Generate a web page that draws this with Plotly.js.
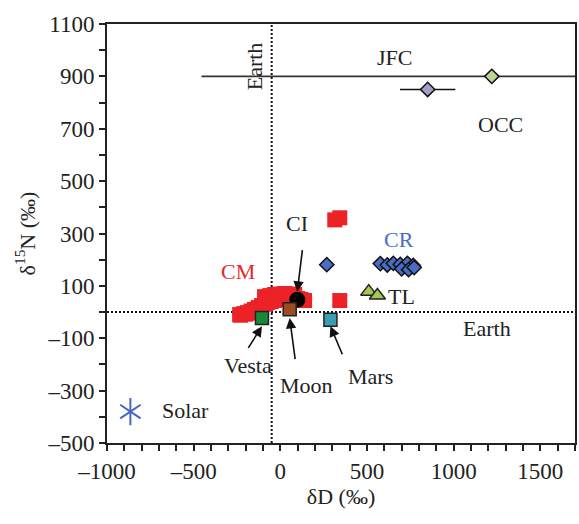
<!DOCTYPE html>
<html>
<head>
<meta charset="utf-8">
<script src="https://cdn.plot.ly/plotly-3.0.1.min.js"></script>
<style>html,body{margin:0;padding:0;background:#fff;}#chart{width:579px;height:524px;}</style>
</head>
<body>
<div id="chart"></div>
<script>
// ---- data (δD ‰, δ15N ‰) ----
const cmD   = [-235, -212, -189, -169, -149, -128, -108, -90, -73, -53, -33, -12, 8, 30, 54, 77, 100, 120, 140, -91, -60, -33, 0, 25, 55, 83, -230, -200, -175];
const cmN   = [-10, -6, -2, 4, 10, 17, 25, 30, 36, 40, 44, 48, 52, 54, 55, 54, 52, 48, 44, 59, 63, 67, 69, 71, 69, 67, -12, -8, -4];
const cmHiD = [314, 343, 343];
const cmHiN = [352, 360, 44];
const crD   = [268, 577, 617, 652, 692, 733, 767, 700, 740, 772];
const crN   = [181, 185, 180, 186, 182, 186, 178, 165, 162, 170];
const tlD   = [510, 560];
const tlN   = [78, 63];
const ciD   = [98];
const ciN   = [47];
const moonD = [54];  const moonN = [11];
const vestaD = [-106]; const vestaN = [-23];
const marsD = [289]; const marsN = [-29];
const solarD = [-865]; const solarN = [-380];
const occD  = [1220]; const occN = [900];
const jfcPtD = [850]; const jfcPtN = [850]; const jfcPtErrD = [160]; const jfcPtErrN = [10];
const jfcLineD = [-455, 1800]; const jfcLineN = [900, 900];
const earthD = -50; const earthN = 0;
const xRange = [-1000, 1700]; const yRange = [-500, 1100];
const xTickVals = [-1000, -500, 0, 500, 1000, 1500];
const xTickText = ['–1000', '–500', '0', '500', '1000', '1500'];
const yTickVals = [1100, 900, 700, 500, 300, 100, -100, -300, -500];
const yTickText = ['1100', '900', '700', '500', '300', '100', '–100', '–300', '–500'];

// labels: text, x, y, color, angle
const labelText = ['Earth', 'JFC', 'OCC', 'CR', 'CM', 'CI', 'TL', 'Earth', 'Vesta', 'Moon', 'Mars', 'Solar'];
const labelX    = [-144, 658, 1269, 687, -242, 98, 698, 1194, -185, 150, 519, -548];
const labelY    = [940, 974, 715, 276, 154, 337, 59, -63, -204, -281, -246, -376];
const labelColor = ['#222', '#222', '#222', '#4a6cc4', '#e8262b', '#222', '#222', '#222', '#222', '#222', '#222', '#222'];
const labelAngle = [-90, 0, 0, 0, 0, 0, 0, 0, 0, 0, 0, 0];

// arrows: tail -> head
const arrowTailX = [133, -202, 92, 375];
const arrowTailY = [269, -155, -212, -188];
const arrowHeadX = [98, -106, 54, 289];
const arrowHeadY = [78, -54, -23, -54];

const FONT = 'Liberation Serif, Times New Roman, serif';

const traces = [
  {x: [earthD, earthD], y: yRange, mode: 'lines', line: {color: '#111', width: 2, dash: '2px,2px'}, hoverinfo: 'skip'},
  {x: xRange, y: [earthN, earthN], mode: 'lines', line: {color: '#111', width: 2, dash: '2px,2px'}, hoverinfo: 'skip'},
  {x: jfcLineD, y: jfcLineN, mode: 'lines', line: {color: '#333', width: 1.6}},
  {x: jfcPtD, y: jfcPtN, mode: 'markers',
   error_x: {type: 'data', array: jfcPtErrD, visible: true, color: '#111', thickness: 1.6, width: 0},
   error_y: {type: 'data', array: jfcPtErrN, visible: true, color: '#111', thickness: 1.6, width: 0},
   marker: {symbol: 'diamond', size: 11, color: '#a89ccb', line: {color: '#111', width: 1.5}}},
  {x: occD, y: occN, mode: 'markers', marker: {symbol: 'diamond', size: 11, color: '#bcd597', line: {color: '#111', width: 1.5}}},
  {x: cmD, y: cmN, mode: 'markers', marker: {symbol: 'square', size: 15, color: '#ec2227', line: {width: 0}}},
  {x: cmHiD, y: cmHiN, mode: 'markers', marker: {symbol: 'square', size: 15, color: '#ec2227', line: {width: 0}}},
  {x: ciD, y: ciN, mode: 'markers', marker: {symbol: 'circle', size: 16, color: '#000', line: {width: 0}}},
  {x: moonD, y: moonN, mode: 'markers', marker: {symbol: 'square', size: 13, color: '#9b4b1f', line: {color: '#222', width: 1.5}}},
  {x: vestaD, y: vestaN, mode: 'markers', marker: {symbol: 'square', size: 13, color: '#17873d', line: {color: '#222', width: 1.5}}},
  {x: marsD, y: marsN, mode: 'markers', marker: {symbol: 'square', size: 13, color: '#3b9db3', line: {color: '#222', width: 1.5}}},
  {x: crD, y: crN, mode: 'markers', marker: {symbol: 'diamond', size: 11, color: '#4a6cc4', line: {color: '#111', width: 1.5}}},
  {x: tlD, y: tlN, mode: 'markers', marker: {symbol: 'triangle-up', size: 14, color: '#a6c65a', line: {color: '#222', width: 1.5}}},
  {x: solarD, y: solarN, mode: 'markers', marker: {symbol: 'y-up-open', size: 17, color: '#4a66c4', line: {color: '#4a66c4', width: 2}}},
  {x: solarD, y: solarN, mode: 'markers', marker: {symbol: 'y-down-open', size: 17, color: '#4a66c4', line: {color: '#4a66c4', width: 2}}}
];

const annotations = [];
for (let i = 0; i < labelText.length; i++) {
  annotations.push({x: labelX[i], y: labelY[i], xref: 'x', yref: 'y', text: labelText[i], showarrow: false,
    textangle: labelAngle[i], font: {family: FONT, size: 22, color: labelColor[i]}});
}
for (let i = 0; i < arrowTailX.length; i++) {
  annotations.push({x: arrowHeadX[i], y: arrowHeadY[i], ax: arrowTailX[i], ay: arrowTailY[i],
    xref: 'x', yref: 'y', axref: 'x', ayref: 'y', text: ' ', showarrow: true,
    arrowhead: 2, arrowsize: 1.3, arrowwidth: 1.6, arrowcolor: '#111', standoff: 0});
}

const axisCommon = {
  showgrid: false, zeroline: false, showline: true, linecolor: '#222', linewidth: 2,
  mirror: true, ticks: 'outside', ticklen: 6, tickwidth: 2, tickcolor: '#222',
  tickfont: {family: FONT, size: 23, color: '#222'}
};

const layout = {
  width: 579, height: 524,
  margin: {l: 107, r: 4, t: 24, b: 81},
  paper_bgcolor: '#fff', plot_bgcolor: '#fff',
  showlegend: false,
  font: {family: FONT, color: '#222'},
  xaxis: Object.assign({}, axisCommon, {
    range: xRange, tickmode: 'array', tickvals: xTickVals, ticktext: xTickText,
    minor: {dtick: 100, tick0: 0, ticks: 'outside', ticklen: 6, tickwidth: 2, tickcolor: '#222', showgrid: false},
    title: {text: 'δD (‰)', font: {family: FONT, size: 22, color: '#222'}, standoff: 6}
  }),
  yaxis: Object.assign({}, axisCommon, {
    range: yRange, tickmode: 'array', tickvals: yTickVals, ticktext: yTickText,
    minor: {dtick: 100, tick0: 0, ticks: 'outside', ticklen: 6, tickwidth: 2, tickcolor: '#222', showgrid: false},
    title: {text: 'δ<sup>15</sup>N (‰)', font: {family: FONT, size: 22, color: '#222'}, standoff: 6}
  }),
  annotations: annotations
};

Plotly.newPlot('chart', traces, layout, {staticPlot: true, displayModeBar: false});
</script>
</body>
</html>
